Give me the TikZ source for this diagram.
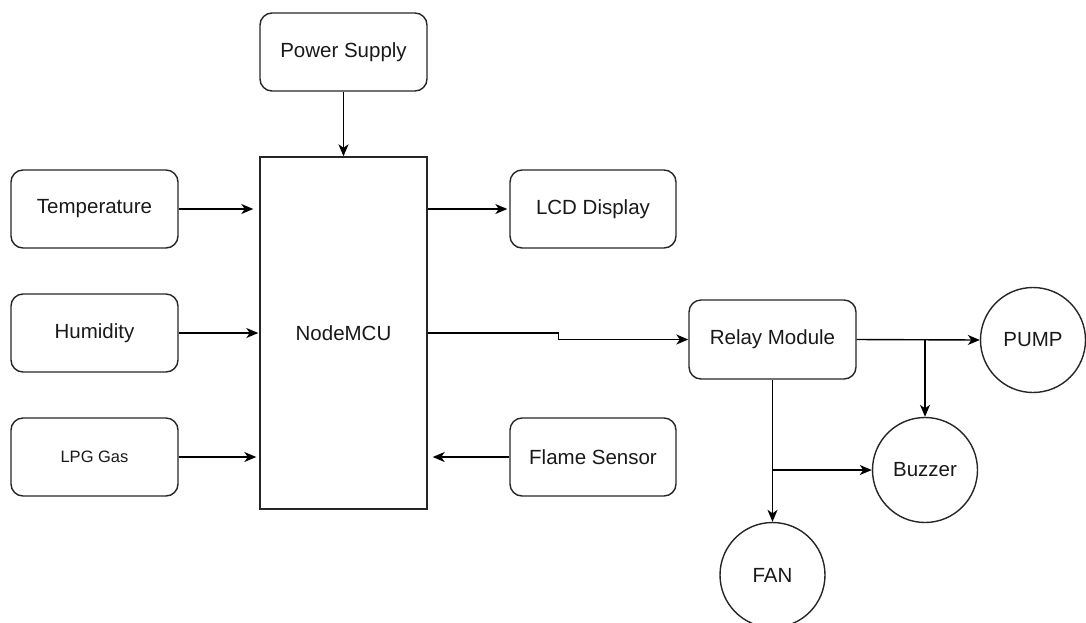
\documentclass[tikz,border=0pt]{standalone}
\usepackage{fontspec}
\setmainfont{Liberation Sans}
\usetikzlibrary{arrows.meta}
\begin{document}
\begin{tikzpicture}[x=1pt,y=-1pt,
  box/.style={draw=black!85, line width=1.4pt, rounded corners=12pt, minimum width=167pt, minimum height=78pt, inner sep=0pt, font=\fontsize{20.5}{24}\selectfont, text=black!90},
  sqbox/.style={draw=black!85, line width=1.4pt, minimum width=167pt, minimum height=352pt, inner sep=0pt, font=\fontsize{20.5}{24}\selectfont, text=black!90},
  circ/.style={draw=black!85, line width=1.4pt, circle, minimum size=105pt, inner sep=0pt, font=\fontsize{20.5}{24}\selectfont, text=black!90},
  arr/.style={draw=black, line width=1.4pt, -{Stealth[length=12pt,width=10pt,inset=3.5pt]}}]
\useasboundingbox (0,0) rectangle (1086,622);
\node[box] (ps) at (343.5,52) {Power Supply};
\node[sqbox] (mcu) at (343.5,333) {NodeMCU};
\node[box] (temp) at (94.5,209) {Temperature};
\node[box] (hum) at (94.5,333) {Humidity};
\node[box, font=\fontsize{16.5}{19}\selectfont] (lpg) at (94.5,457) {LPG Gas};
\node[box, minimum width=166pt] (lcd) at (593,209) {LCD Display};
\node[box, minimum width=166pt] (flame) at (593,457) {Flame Sensor};
\node[box, minimum height=79pt] (relay) at (772.5,339.5) {Relay Module};
\node[circ] (pump) at (1033,340) {PUMP};
\node[circ] (buzzer) at (925,470) {Buzzer};
\node[circ] (fan) at (772.5,575) {FAN};
\draw[arr] (ps.south) -- (mcu.north);
\draw[arr, shorten >=6pt] (temp.east) -- (temp.east -| mcu.west);
\draw[arr, shorten >=1pt] (hum.east) -- (hum.east -| mcu.west);
\draw[arr, shorten >=3pt] (lpg.east) -- (lpg.east -| mcu.west);
\draw[arr, shorten >=2pt] (mcu.east |- lcd.west) -- (lcd.west);
\draw[arr, shorten >=5pt] (flame.west) -- (flame.west -| mcu.east);
\draw[arr] (mcu.east) -- ++(131,0) |- (relay.west);
\draw[arr] (relay.east) -- (pump.west);
\coordinate (br) at (925,339.5);
\draw[arr] (br) -- (buzzer.north);
\draw[arr] (relay.south) -- (fan.north);
\coordinate (bf) at (relay.south |- buzzer.west);
\draw[arr] (bf) -- (buzzer.west);
\end{tikzpicture}
\end{document}
